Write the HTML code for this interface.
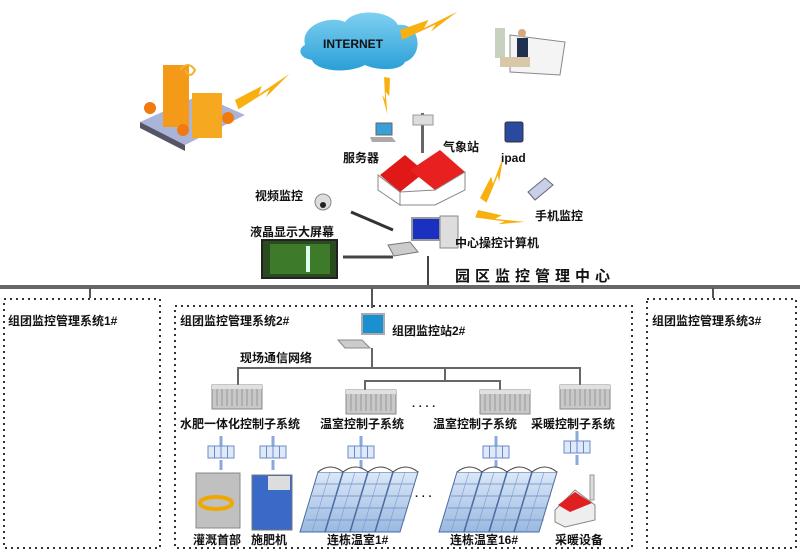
<!DOCTYPE html>
<html><head><meta charset="utf-8"><style>
html,body{margin:0;padding:0;background:#fff;}
svg{display:block;}
text{font-family:"Liberation Sans","Noto Sans CJK SC",sans-serif;font-weight:bold;fill:#111;}
</style></head><body>
<svg width="800" height="554" viewBox="0 0 800 554" xmlns="http://www.w3.org/2000/svg">
<defs>
<linearGradient id="cl" x1="0" y1="0" x2="0" y2="1"><stop offset="0" stop-color="#7fd0f0"/><stop offset="1" stop-color="#2a9fd8"/></linearGradient>
<linearGradient id="ghg" x1="0" y1="0" x2="0" y2="1"><stop offset="0" stop-color="#dbe8f8"/><stop offset="1" stop-color="#9ab8e0"/></linearGradient>
<g id="bolt"><polygon points="0,0 30,-4 24,3 60,-6 30,8 36,2 0,10" fill="#f8b010"/></g>
<g id="rack"><rect x="0" y="0" width="50" height="24" fill="#c8c8c8" stroke="#888"/><path d="M5 3v18M10 3v18M15 3v18M20 3v18M25 3v18M30 3v18M35 3v18M40 3v18M45 3v18" stroke="#999"/><rect x="0" y="0" width="50" height="4" fill="#e0e0e0"/></g>
<g id="io"><path d="M9 -14v10M9 10v10" stroke="#8aa8d8" stroke-width="3"/><rect x="-4" y="-4" width="26" height="12" fill="#dfe9f8" stroke="#6a8ac8"/><path d="M2.5 -4v12M9 -4v12M15.5 -4v12" stroke="#6a8ac8"/></g>
<g id="ghs">
<polygon points="10,0 110,0 92,60 -8,60" fill="url(#ghg)" stroke="#4a6aa0"/>
<path d="M10 0 q12.5 -10 25 0 q12.5 -10 25 0 q12.5 -10 25 0 q12.5 -10 25 0" fill="#fff" stroke="#444"/>
<path d="M35 0 L17 60 M60 0 L42 60 M85 0 L67 60" stroke="#4a6aa0" stroke-width="1.5"/>
<path d="M7 12 H107 M4 24 H104 M1 36 H100 M-2 48 H97" stroke="#6a8ac0" stroke-width="0.8"/>
<path d="M22 0 L4 60 M47 0 L29 60 M72 0 L54 60 M97 0 L79 60" stroke="#7a9ad0" stroke-width="0.6"/>
</g>
</defs>

<path d="M305 45 C300 25 330 15 345 22 C355 8 390 10 398 25 C420 22 425 55 405 62 C400 72 375 70 365 65 C345 75 315 70 312 60 C298 58 298 48 305 45Z" fill="url(#cl)"/>
<text x="323" y="48" font-size="12">INTERNET</text>
<g transform="translate(235,100) rotate(-20)"><use href="#bolt"/></g>
<g transform="translate(400,30) rotate(-12)"><use href="#bolt"/></g>
<g transform="translate(390,78) rotate(100) scale(0.6)"><use href="#bolt"/></g>
<g transform="translate(480,198) rotate(-55) scale(0.8)"><use href="#bolt"/></g>
<g transform="translate(478,210) rotate(20) scale(0.8)"><use href="#bolt"/></g>

<polygon points="140,122 200,95 245,115 185,145" fill="#aab4d8"/>
<polygon points="140,122 185,145 185,151 140,128" fill="#556"/>
<rect x="163" y="65" width="26" height="62" fill="#f59a18"/>
<rect x="192" y="93" width="30" height="45" fill="#f5a820"/>
<circle cx="150" cy="108" r="6" fill="#f07a10"/><circle cx="183" cy="130" r="6" fill="#f07a10"/><circle cx="228" cy="118" r="6" fill="#f07a10"/>
<path d="M180 70 q8 -10 15 0 q-5 10 -10 0" stroke="#f2b030" fill="none" stroke-width="2"/>

<rect x="495" y="28" width="10" height="30" fill="#c8d0c0"/>
<polygon points="510,35 565,42 560,75 510,72" fill="#f4f4f4" stroke="#888"/>
<circle cx="522" cy="33" r="4" fill="#d8a880"/>
<rect x="517" y="38" width="11" height="22" fill="#223050"/>
<rect x="500" y="57" width="30" height="10" fill="#d8c8a8"/>

<rect x="376" y="123" width="16" height="12" fill="#3a9fd8" stroke="#666"/>
<polygon points="370,137 392,137 396,142 372,142" fill="#aaa"/>
<text x="343" y="162" font-size="12">服务器</text>
<rect x="421" y="113" width="3" height="40" fill="#666"/>
<rect x="413" y="115" width="20" height="10" fill="#ddd" stroke="#999"/>
<text x="443" y="151" font-size="12">气象站</text>
<polygon points="380,175 405,155 425,172 400,192" fill="#e01818"/>
<polygon points="410,170 440,150 465,172 435,190" fill="#e82020"/>
<polygon points="378,175 400,192 400,205 378,190" fill="#fff" stroke="#888"/>
<polygon points="400,192 435,190 465,172 465,190 435,205 400,205" fill="#fff" stroke="#888"/>
<rect x="505" y="122" width="18" height="20" rx="2" fill="#2a4aa0" stroke="#333"/>
<text x="501" y="162" font-size="12">ipad</text>
<polygon points="528,192 545,178 553,185 535,200" fill="#c8d0e8" stroke="#667"/>
<text x="535" y="220" font-size="12">手机监控</text>
<circle cx="323" cy="202" r="8" fill="#ddd" stroke="#888"/><circle cx="323" cy="205" r="3" fill="#222"/>
<text x="255" y="200" font-size="12">视频监控</text>
<line x1="351" y1="212" x2="393" y2="230" stroke="#333" stroke-width="3"/>
<rect x="412" y="218" width="28" height="22" fill="#1a30c0" stroke="#999" stroke-width="2"/>
<rect x="440" y="216" width="18" height="32" fill="#ddd" stroke="#888"/>
<polygon points="388,245 410,242 418,252 394,256" fill="#ccc" stroke="#777"/>
<text x="455" y="247" font-size="12">中心操控计算机</text>
<text x="250" y="236" font-size="12">液晶显示大屏幕</text>
<rect x="262" y="240" width="75" height="38" fill="#2a4a20" stroke="#222" stroke-width="2"/>
<rect x="270" y="244" width="60" height="30" fill="#3d7a2a"/>
<rect x="306" y="246" width="4" height="26" fill="#dfe"/>
<line x1="343" y1="257" x2="393" y2="257" stroke="#444" stroke-width="3"/>
<line x1="428" y1="256" x2="428" y2="287" stroke="#444" stroke-width="2"/>
<text x="455" y="281" font-size="15" letter-spacing="5">园区监控管理中心</text>

<rect x="0" y="285" width="800" height="4" fill="#666"/>
<rect x="89" y="288" width="2" height="10" fill="#555"/>
<rect x="371" y="288" width="2" height="20" fill="#555"/>
<rect x="712" y="288" width="2" height="10" fill="#555"/>

<g fill="none" stroke="#333" stroke-width="2" stroke-dasharray="2,4">
<rect x="4" y="299" width="156" height="249"/>
<rect x="175" y="306" width="457" height="242"/>
<rect x="647" y="299" width="149" height="249"/>
</g>
<text x="8" y="325" font-size="12">组团监控管理系统1#</text>
<text x="180" y="325" font-size="12">组团监控管理系统2#</text>
<text x="652" y="325" font-size="12">组团监控管理系统3#</text>

<rect x="362" y="314" width="22" height="20" fill="#1a90d0" stroke="#aaa" stroke-width="2"/>
<polygon points="338,340 362,340 370,348 345,348" fill="#ccc" stroke="#888"/>
<text x="392" y="335" font-size="12">组团监控站2#</text>
<text x="240" y="362" font-size="12">现场通信网络</text>
<g stroke="#666" stroke-width="2" fill="none">
<path d="M372 348 V368 M238 386 V368 H580 V386 M445 368 V381 M365 392 V381 H500 V392"/>
</g>
<use href="#rack" x="212" y="385"/>
<use href="#rack" x="346" y="390"/>
<use href="#rack" x="480" y="390"/>
<use href="#rack" x="560" y="385"/>
<text x="412" y="410" font-size="11">·  ·  ·  ·</text>

<text x="180" y="428" font-size="12">水肥一体化控制子系统</text>
<text x="320" y="428" font-size="12">温室控制子系统</text>
<text x="433" y="428" font-size="12">温室控制子系统</text>
<text x="531" y="428" font-size="12">采暖控制子系统</text>

<use href="#io" x="212" y="450"/>
<use href="#io" x="264" y="450"/>
<use href="#io" x="352" y="450"/>
<use href="#io" x="487" y="450"/>
<use href="#io" x="568" y="445"/>

<rect x="196" y="473" width="44" height="55" fill="#c0c0c0" stroke="#888"/>
<ellipse cx="216" cy="503" rx="16" ry="6" fill="none" stroke="#f0a800" stroke-width="4"/>
<rect x="252" y="475" width="40" height="55" fill="#3a6ac8" stroke="#777"/>
<rect x="268" y="476" width="22" height="14" fill="#ddd"/>
<text x="193" y="544" font-size="12">灌溉首部</text>
<text x="251" y="544" font-size="12">施肥机</text>

<use href="#ghs" x="308" y="472"/>
<use href="#ghs" x="447" y="472"/>
<text x="415" y="500" font-size="11">·  ·  ·</text>
<text x="327" y="544" font-size="12">连栋温室1#</text>
<text x="450" y="544" font-size="12">连栋温室16#</text>

<polygon points="555,510 575,490 595,505 595,520 565,527 555,522" fill="#eee" stroke="#888"/>
<polygon points="558,505 575,492 592,503 570,512" fill="#e02020"/>
<rect x="590" y="475" width="4" height="25" fill="#ddd" stroke="#999"/>
<text x="555" y="544" font-size="12">采暖设备</text>
</svg>
</body></html>
